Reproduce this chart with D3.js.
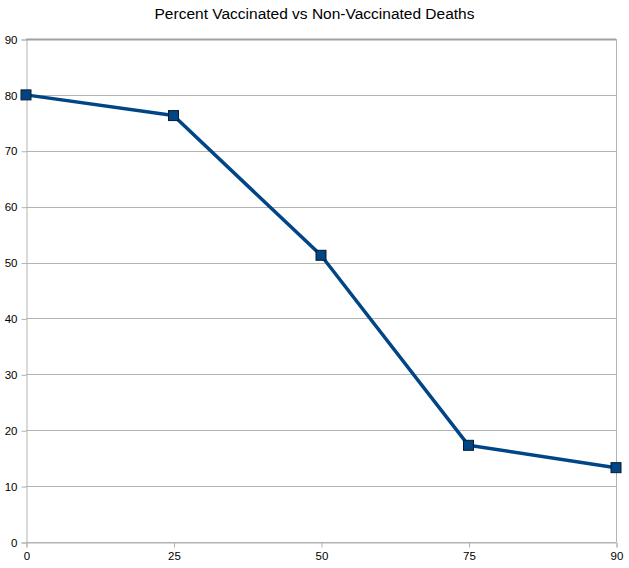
<!DOCTYPE html>
<html><head><meta charset="utf-8">
<script src="https://cdn.jsdelivr.net/npm/d3@7"></script>
<style>body{margin:0;background:#fff}svg{display:block}text{font-family:"Liberation Sans",Arial,sans-serif}</style>
</head><body>
<script>
const categories = ["0","25","50","75","90"];
const values = [80, 76.3, 51.3, 17.3, 13.3];
const yTicks = [0,10,20,30,40,50,60,70,80,90];
const title = "Percent Vaccinated vs Non-Vaccinated Deaths";

const W = 629, H = 568;
const m = {left:26, right:13, top:39, bottom:26};
const svg = d3.select("body").append("svg").attr("width",W).attr("height",H);

const x = d3.scalePoint().domain(categories).range([m.left, W-m.right]).padding(0);
const y = d3.scaleLinear().domain([0,90]).range([H-m.bottom, m.top]);

// gridlines
svg.append("g").selectAll("line").data(yTicks).join("line")
  .attr("x1", m.left).attr("x2", W-m.right)
  .attr("y1", d=>Math.round(y(d))+0.5).attr("y2", d=>Math.round(y(d))+0.5)
  .attr("stroke", "#b3b3b3").attr("stroke-width", 1);
// top border slightly heavier
svg.append("line").attr("x1",m.left).attr("x2",W-m.right)
  .attr("y1",Math.round(y(90))+0.5).attr("y2",Math.round(y(90))+0.5)
  .attr("stroke","#a0a0a0").attr("stroke-width",2);
// right border
svg.append("line").attr("x1",W-m.right+0.5).attr("x2",W-m.right+0.5)
  .attr("y1",m.top).attr("y2",H-m.bottom).attr("stroke","#b3b3b3");

// y axis
const yAxis = svg.append("g").attr("transform",`translate(${m.left+0.5},0.5)`)
  .call(d3.axisLeft(y).tickValues(yTicks).tickSize(5).tickPadding(4).tickFormat(d3.format("d")));
yAxis.select(".domain").attr("stroke","#b3b3b3");
yAxis.selectAll(".tick line").attr("stroke","#b3b3b3");
yAxis.selectAll("text").attr("fill","#000").style("font-size","11.5px");

// x axis
const xAxis = svg.append("g").attr("transform",`translate(0.5,${Math.round(H-m.bottom)+0.5})`)
  .call(d3.axisBottom(x).tickSize(5).tickPadding(4));
xAxis.select(".domain").attr("stroke","#b3b3b3");
xAxis.selectAll(".tick line").attr("stroke","#b3b3b3");
xAxis.selectAll("text").attr("fill","#000").style("font-size","11.5px");

// line
const pts = categories.map((c,i)=>({c, v: values[i]}));
svg.append("path").datum(pts)
  .attr("fill","none").attr("stroke","#004586").attr("stroke-width",3.5)
  .attr("stroke-linejoin","round")
  .attr("d", d3.line().x(d=>x(d.c)).y(d=>y(d.v)));

// markers
const s = 10;
svg.append("g").selectAll("rect").data(pts).join("rect")
  .attr("x", d=>x(d.c)-s/2).attr("y", d=>y(d.v)-s/2)
  .attr("width", s).attr("height", s)
  .attr("fill","#004586").attr("stroke","#0a1a2a").attr("stroke-width",1);

// title
svg.append("text").attr("x", W/2).attr("y", 19).attr("text-anchor","middle")
  .style("font-size","15.5px").attr("fill","#000").text(title);
</script>
</body></html>
